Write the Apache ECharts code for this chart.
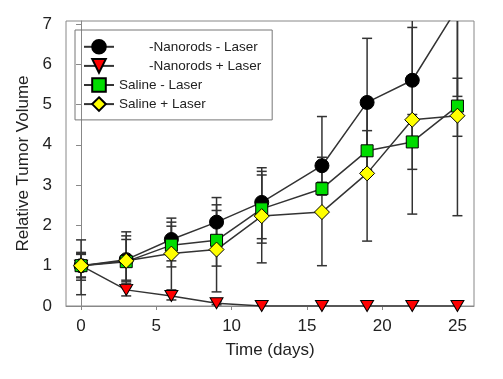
<!DOCTYPE html>
<html><head><meta charset="utf-8">
<script src="https://cdn.jsdelivr.net/npm/echarts@6/dist/echarts.min.js"></script>
<style>html,body{margin:0;padding:0;background:#fff}#c{width:503px;height:379px}</style>
</head><body><div id="c"></div>
<script>
const days = [0, 3, 6, 9, 12, 16, 19, 22, 25];
const xTicks = [0, 5, 10, 15, 20, 25];
const yTicks = [0, 1, 2, 3, 4, 5, 6, 7];

const names = ['-Nanorods - Laser', '-Nanorods + Laser', 'Saline - Laser', 'Saline + Laser'];

const nanoNoLaser     = [1.0, 1.15, 1.65, 2.08, 2.57, 3.48, 5.05, 5.6, 7.4];
const nanoNoLaserLow  = [0.28, 0.46, 1.12, 1.47, 1.67, 2.9, 3.38, 4.15, 5.2];
const nanoNoLaserHigh = [1.64, 1.84, 2.18, 2.69, 3.43, 4.7, 6.64, 6.91, 9.6];

const nanoLaser     = [1.0, 0.4, 0.25, 0.07, 0.0, 0.0, 0.0, 0.0, 0.0];
const nanoLaserLow  = [0.72, 0.25, 0.15, 0.03, 0, 0, 0, 0, 0];
const nanoLaserHigh = [1.28, 0.55, 0.35, 0.11, 0, 0, 0, 0, 0];

const salineNoLaser     = [1.0, 1.1, 1.51, 1.63, 2.41, 2.91, 3.85, 4.07, 4.96];
const salineNoLaserLow  = [0.7, 0.64, 0.97, 0.99, 1.56, 2.75, 3.35, 3.39, 4.21];
const salineNoLaserHigh = [1.3, 1.74, 2.08, 2.51, 3.25, 3.07, 4.35, 4.75, 5.65];

const salineLaser     = [1.0, 1.12, 1.30, 1.40, 2.23, 2.33, 3.29, 4.62, 4.72];
const salineLaserLow  = [0.64, 0.6, 0.4, 0.35, 1.07, 1.0, 1.61, 2.28, 2.24];
const salineLaserHigh = [1.33, 1.65, 1.98, 2.37, 3.34, 3.69, 4.97, 7.25, 7.14];

const FONT = '"Liberation Sans", Arial, sans-serif';

function errSeries(id, lows, highs) {
  const data = [];
  days.forEach((d, i) => { if (highs[i] > lows[i]) data.push([d, lows[i], highs[i]]); });
  return {
    type: 'custom', id: id, clip: true, z: 1, silent: true,
    data: data,
    encode: { x: 0, y: [1, 2] },
    renderItem(params, api) {
      const x = api.value(0);
      const lo = api.coord([x, api.value(1)]);
      const hi = api.coord([x, api.value(2)]);
      const hw = 5;
      const style = { stroke: '#333', lineWidth: 1.5 };
      return { type: 'group', children: [
        { type: 'line', shape: { x1: lo[0], y1: lo[1], x2: hi[0], y2: hi[1] }, style },
        { type: 'line', shape: { x1: lo[0] - hw, y1: lo[1], x2: lo[0] + hw, y2: lo[1] }, style },
        { type: 'line', shape: { x1: hi[0] - hw, y1: hi[1], x2: hi[0] + hw, y2: hi[1] }, style }
      ]};
    }
  };
}

function lineSeries(name, vals, symbol, size, color, rotate) {
  return {
    type: 'line', name: name, z: 3,
    data: days.map((d, i) => [d, vals[i]]),
    symbol: symbol, symbolSize: size, symbolRotate: rotate || 0,
    showAllSymbol: true, clip: true,
    lineStyle: { color: '#333', width: 1.5 },
    itemStyle: { color: color, borderColor: '#000', borderWidth: 1 },
    emphasis: { disabled: true }
  };
}

const chart = echarts.init(document.getElementById('c'), null, { renderer: 'canvas' });
chart.setOption({
  animation: false,
  backgroundColor: '#fff',
  textStyle: { fontFamily: FONT },
  grid: { left: 66, right: 29, top: 21, bottom: 73, show: true, borderColor: '#888', borderWidth: 1 },
  legend: {
    data: names,
    orient: 'vertical', left: 75, top: 30,
    itemWidth: 30, itemHeight: 17, itemGap: 3.5,
    padding: [9, 11, 8, 8],
    borderColor: '#777', borderWidth: 1,
    textStyle: { fontSize: 13.5, color: '#222', fontFamily: FONT, rich: { p: { width: 30 } } },
    formatter: n => n.charAt(0) === '-' ? '{p|}' + n : n
  },
  xAxis: {
    type: 'value', min: -1, max: 26.1,
    name: 'Time (days)', nameLocation: 'middle', nameGap: 36,
    nameTextStyle: { fontSize: 17, color: '#222', fontFamily: FONT },
    axisLine: { show: true, lineStyle: { color: '#888' } },
    axisTick: { show: true, length: 4, customValues: xTicks, lineStyle: { color: '#888' } },
    axisLabel: { customValues: xTicks, fontSize: 17, color: '#222', margin: 12, fontFamily: FONT },
    splitLine: { show: false }
  },
  yAxis: {
    type: 'value', min: 0, max: 7.07,
    name: 'Relative Tumor Volume', nameLocation: 'middle', nameGap: 34,
    nameTextStyle: { fontSize: 17, color: '#222', fontFamily: FONT },
    axisLine: { show: true, lineStyle: { color: '#888' } },
    axisTick: { show: true, length: 5, customValues: yTicks, lineStyle: { color: '#888' } },
    axisLabel: { customValues: yTicks, fontSize: 17, color: '#222', margin: 14, fontFamily: FONT },
    splitLine: { show: false }
  },
  series: [
    errSeries('e1', nanoNoLaserLow, nanoNoLaserHigh),
    errSeries('e2', nanoLaserLow, nanoLaserHigh),
    errSeries('e3', salineNoLaserLow, salineNoLaserHigh),
    errSeries('e4', salineLaserLow, salineLaserHigh),
    lineSeries(names[0], nanoNoLaser, 'circle', 14, '#000000'),
    lineSeries(names[1], nanoLaser, 'triangle', [13, 11], '#ff0000', 180),
    lineSeries(names[2], salineNoLaser, 'rect', 12, '#00dd00'),
    lineSeries(names[3], salineLaser, 'diamond', [15, 15], '#ffff00')
  ]
});
</script>
</body></html>
